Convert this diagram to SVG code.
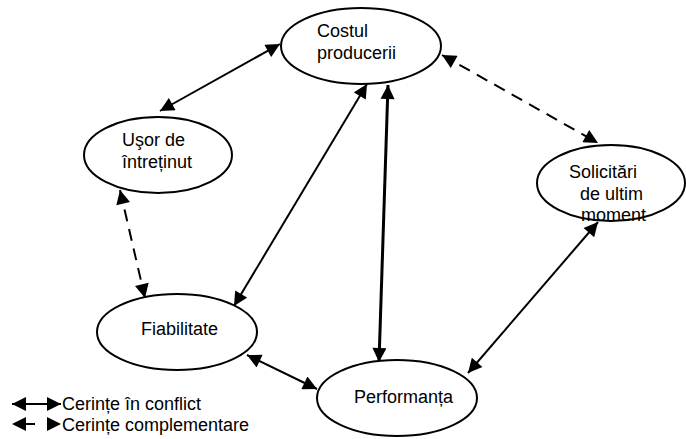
<svg xmlns="http://www.w3.org/2000/svg" width="686" height="439" viewBox="0 0 686 439">
  <style>
    .node ellipse { fill: #ffffff; stroke: #000000; stroke-width: 2; }
    .node text, .legend text { font-family: "Liberation Sans", Arial, sans-serif; font-size: 18px; fill: #000000; }
    .edge { fill: none; stroke: #000000; stroke-width: 2; }
    .thick { stroke-width: 3; }
    .dash { stroke-dasharray: 12 8; }
  </style>
  <defs>
    <marker id="head" viewBox="0 0 10 10" refX="10" refY="5" markerWidth="8" markerHeight="7" markerUnits="strokeWidth" orient="auto-start-reverse">
      <path d="M0,0 L10,5 L0,10 Z" fill="#000000"/>
    </marker>
    <marker id="headThick" viewBox="0 0 10 10" refX="10" refY="5" markerWidth="5.3" markerHeight="4.7" markerUnits="strokeWidth" orient="auto-start-reverse">
      <path d="M0,0 L10,5 L0,10 Z" fill="#000000"/>
    </marker>
  </defs>

  <g id="connectors">
    <line class="edge" x1="280" y1="44" x2="160" y2="111" marker-start="url(#head)" marker-end="url(#head)"/>
    <line class="edge" x1="367" y1="84" x2="234" y2="306" marker-start="url(#head)" marker-end="url(#head)"/>
    <line class="edge thick" x1="388" y1="85" x2="379" y2="362" marker-start="url(#headThick)" marker-end="url(#headThick)"/>
    <line class="edge dash" x1="442" y1="55" x2="598" y2="143" marker-start="url(#head)" marker-end="url(#head)"/>
    <line class="edge dash" x1="120" y1="190" x2="145" y2="298" marker-start="url(#head)" marker-end="url(#head)"/>
    <line class="edge" x1="247" y1="355" x2="317" y2="389" marker-start="url(#head)" marker-end="url(#head)"/>
    <line class="edge" x1="598" y1="222" x2="468" y2="373" marker-start="url(#head)" marker-end="url(#head)"/>
  </g>

  <g id="costul-producerii" class="node">
    <ellipse cx="361" cy="46" rx="80" ry="38"/>
    <text x="317" y="37">Costul</text>
    <text x="317" y="59">producerii</text>
  </g>

  <g id="usor-de-intretinut" class="node">
    <ellipse cx="158" cy="155" rx="74" ry="38"/>
    <text x="122" y="146">Uşor de</text>
    <text x="122" y="168">întreținut</text>
  </g>

  <g id="solicitari" class="node">
    <ellipse cx="611" cy="183" rx="74" ry="38"/>
    <text x="569" y="178">Solicitări</text>
    <text x="580" y="200">de ultim</text>
    <text x="581" y="221">moment</text>
  </g>

  <g id="fiabilitate" class="node">
    <ellipse cx="177" cy="332" rx="80" ry="38"/>
    <text x="141" y="335">Fiabilitate</text>
  </g>

  <g id="performanta" class="node">
    <ellipse cx="397" cy="398" rx="80" ry="38"/>
    <text x="354" y="403">Performanța</text>
  </g>

  <g id="legend" class="legend">
    <line class="edge" x1="12" y1="404" x2="61" y2="404" marker-start="url(#head)" marker-end="url(#head)"/>
    <line class="edge" x1="12" y1="424" x2="61" y2="424" stroke-dasharray="0 14 9 100" marker-start="url(#head)" marker-end="url(#head)"/>
    <text x="62" y="410">Cerințe în conflict</text>
    <text x="62" y="431">Cerințe complementare</text>
  </g>
</svg>
